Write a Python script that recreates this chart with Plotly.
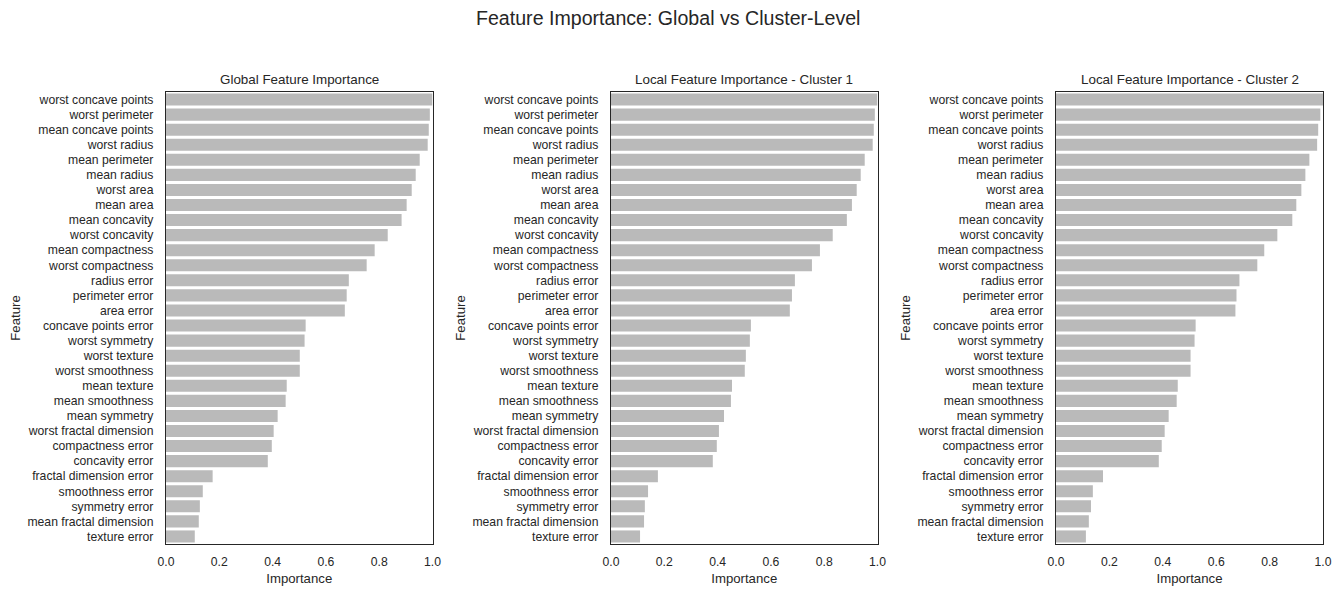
import plotly.graph_objects as go

features = [
    "worst concave points", "worst perimeter", "mean concave points", "worst radius",
    "mean perimeter", "mean radius", "worst area", "mean area", "mean concavity",
    "worst concavity", "mean compactness", "worst compactness", "radius error",
    "perimeter error", "area error", "concave points error", "worst symmetry",
    "worst texture", "worst smoothness", "mean texture", "mean smoothness",
    "mean symmetry", "worst fractal dimension", "compactness error", "concavity error",
    "fractal dimension error", "smoothness error", "symmetry error",
    "mean fractal dimension", "texture error",
]

global_importance = [
    1.000, 0.990, 0.986, 0.982, 0.952, 0.937, 0.922, 0.903, 0.884, 0.832,
    0.783, 0.753, 0.686, 0.678, 0.671, 0.524, 0.520, 0.502, 0.502, 0.453,
    0.449, 0.419, 0.404, 0.397, 0.382, 0.175, 0.138, 0.127, 0.123, 0.108,
]
cluster1_importance = [
    1.000, 0.990, 0.986, 0.982, 0.952, 0.937, 0.922, 0.904, 0.885, 0.832,
    0.784, 0.754, 0.690, 0.679, 0.671, 0.525, 0.521, 0.506, 0.502, 0.454,
    0.450, 0.424, 0.405, 0.397, 0.382, 0.176, 0.139, 0.127, 0.124, 0.109,
]
cluster2_importance = [
    1.000, 0.990, 0.982, 0.978, 0.949, 0.934, 0.919, 0.900, 0.885, 0.829,
    0.780, 0.754, 0.687, 0.676, 0.672, 0.523, 0.519, 0.504, 0.504, 0.456,
    0.452, 0.422, 0.407, 0.396, 0.385, 0.176, 0.138, 0.131, 0.123, 0.112,
]

panel_titles = [
    "Global Feature Importance",
    "Local Feature Importance - Cluster 1",
    "Local Feature Importance - Cluster 2",
]
suptitle = "Feature Importance: Global vs Cluster-Level"
x_ticks = [0.0, 0.2, 0.4, 0.6, 0.8, 1.0]
x_tick_labels = ["0.0", "0.2", "0.4", "0.6", "0.8", "1.0"]

W, H = 1341, 593
FONT = "Liberation Sans, Arial, sans-serif"
TXT = "#262626"
BAR = "#bababa"

panel_px = [(166, 432.5), (611, 877.5), (1056, 1323)]
top_px, bot_px = 92, 544
ydom = [1 - bot_px / H, 1 - top_px / H]

fig = go.Figure()
series = [global_importance, cluster1_importance, cluster2_importance]
for i, vals in enumerate(series):
    n = "" if i == 0 else str(i + 1)
    fig.add_trace(go.Bar(
        x=vals, y=features, orientation="h",
        marker=dict(color=BAR, line=dict(width=0)),
        width=0.8, xaxis="x" + n, yaxis="y" + n, showlegend=False,
        hoverinfo="x+y",
    ))
    x0, x1 = panel_px[i]
    fig.layout["xaxis" + n] = dict(
        domain=[x0 / W, x1 / W], anchor="y" + n, range=[0, 1],
        tickvals=x_ticks, ticktext=x_tick_labels, automargin=False,
        showgrid=False, zeroline=False, showline=True, mirror=True,
        linecolor=TXT, linewidth=1.25, ticks="", ticklabelstandoff=6,
        tickfont=dict(family=FONT, size=12.2, color=TXT),
        title=dict(text="Importance", font=dict(family=FONT, size=13.2, color=TXT), standoff=5),
    )
    fig.layout["yaxis" + n] = dict(
        domain=ydom, anchor="x" + n, type="category", automargin=False,
        categoryorder="array", categoryarray=features,
        range=[len(features) - 0.5, -0.5],
        showgrid=False, zeroline=False, showline=True, mirror=True,
        linecolor=TXT, linewidth=1.25, ticks="", ticklabelstandoff=9,
        tickfont=dict(family=FONT, size=12.2, color=TXT),
        title=dict(text="Feature", font=dict(family=FONT, size=13.2, color=TXT), standoff=3),
    )
    fig.add_annotation(
        text=panel_titles[i], xref="paper", yref="paper",
        x=(x0 + x1) / 2 / W, y=1 - 79 / H, xanchor="center", yanchor="middle",
        showarrow=False, font=dict(family=FONT, size=13.4, color=TXT),
    )

fig.add_annotation(
    text=suptitle, xref="paper", yref="paper",
    x=668 / W, y=1 - 18 / H, xanchor="center", yanchor="middle",
    showarrow=False, font=dict(family=FONT, size=19.6, color=TXT),
)

fig.update_layout(
    width=W, height=H, margin=dict(l=0, r=0, t=0, b=0, autoexpand=False),
    paper_bgcolor="white", plot_bgcolor="white", bargap=0.2,
)

fig.write_html("out.html")
